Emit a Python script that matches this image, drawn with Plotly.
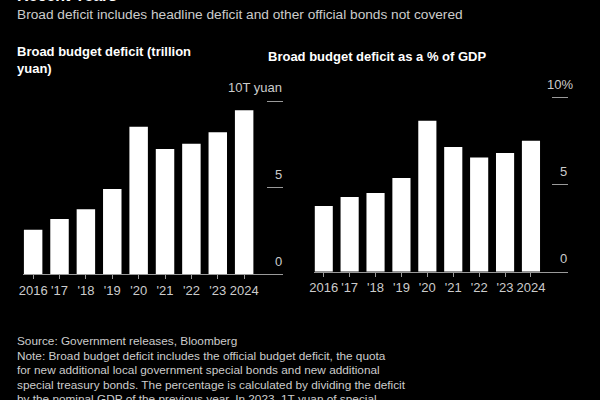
import plotly.graph_objects as go

years = ["2016", "'17", "'18", "'19", "'20", "'21", "'22", "'23", "2024"]
deficit_trn = [2.56, 3.18, 3.74, 4.91, 8.51, 7.23, 7.53, 8.19, 9.46]
deficit_pct = [3.77, 4.29, 4.52, 5.38, 8.67, 7.17, 6.57, 6.82, 7.53]
left_ticks = [0, 5, 10]
left_ticktext = ["0", "5", "10T yuan"]
right_ticks = [0, 5, 10]
right_ticktext = ["0", "5", "10%"]

title_top = "Recent Years"
subtitle = "Broad deficit includes headline deficit and other official bonds not covered"
left_title = "Broad budget deficit (trillion<br>yuan)"
right_title = "Broad budget deficit as a % of GDP"
footer_lines = [
    "Source: Government releases, Bloomberg",
    "Note: Broad budget deficit includes the official budget deficit, the quota",
    "for new additional local government special bonds and new additional",
    "special treasury bonds. The percentage is calculated by dividing the deficit",
    "by the nominal GDP of the previous year. In 2023, 1T yuan of special",
]

W, H = 600, 400
FONT = "Liberation Sans"
TXT = "#cccccc"
AX = "#9a9a9a"
YTOP = 11.8


def px(x):
    return x / W


def py(y):
    return 1 - y / H


fig = go.Figure()
fig.add_trace(go.Bar(x=years, y=deficit_trn, marker=dict(color="white", line=dict(width=0)),
                     width=0.7, xaxis="x", yaxis="y", hoverinfo="skip"))
fig.add_trace(go.Bar(x=years, y=deficit_pct, marker=dict(color="white", line=dict(width=0)),
                     width=0.7, xaxis="x2", yaxis="y2", hoverinfo="skip"))

xcommon = dict(type="category", showline=True, linecolor=AX, linewidth=1, ticks="outside",
               ticklen=4, tickcolor=AX, showgrid=False, zeroline=False,
               tickfont=dict(family=FONT, size=13, color=TXT), fixedrange=True)
ycommon = dict(side="right", showline=False, showgrid=False, zeroline=False, ticks="inside",
               ticklen=16, tickcolor=AX, tickwidth=1, showticklabels=False,
               range=[0, YTOP], fixedrange=True)

fig.update_layout(
    width=W, height=H, margin=dict(l=0, r=0, t=0, b=0),
    paper_bgcolor="black", plot_bgcolor="black", showlegend=False,
    xaxis=dict(xcommon, domain=[px(18), px(280)], range=[-0.39, 9.46], anchor="y"),
    yaxis=dict(ycommon, domain=[py(274), py(274 - YTOP * 17.3)], anchor="x",
               tickvals=left_ticks),
    xaxis2=dict(xcommon, domain=[px(312), px(568)], range=[-0.36, 9.44], anchor="y2"),
    yaxis2=dict(ycommon, domain=[py(271.7), py(271.7 - YTOP * 17.4)], anchor="x2",
                tickvals=right_ticks),
)

ann = []
# y tick labels (sit above the tick dashes, right-aligned)
for v, t in zip(left_ticks, left_ticktext):
    ann.append(dict(text=t, xref="x domain", yref="y", x=1, y=v, xanchor="right", yanchor="middle",
                    yshift=13, xshift=1, font=dict(family=FONT, size=13, color=TXT), showarrow=False))
for v, t in zip(right_ticks, right_ticktext):
    ann.append(dict(text=t, xref="x2 domain", yref="y2", x=1, y=v, xanchor="right", yanchor="middle",
                    yshift=13, xshift=1 + (6 if t.endswith("%") else 0),
                    font=dict(family=FONT, size=13, color=TXT), showarrow=False))

txt = []
txt.append(dict(text="<b>" + title_top + "</b>", x=px(10), y=py(6), xanchor="left", yanchor="bottom",
                font=dict(family=FONT, size=16, color="white")))
txt.append(dict(text=subtitle, x=px(10), y=py(15), xanchor="left", yanchor="middle",
                font=dict(family=FONT, size=13.7, color=TXT)))
txt.append(dict(text="<b>" + left_title + "</b>", x=px(10), y=py(60), xanchor="left", yanchor="middle",
                align="left", font=dict(family=FONT, size=13, color="white")))
txt.append(dict(text="<b>" + right_title + "</b>", x=px(263), y=py(57), xanchor="left", yanchor="middle",
                align="left", font=dict(family=FONT, size=13, color="white")))
ys = [341, 355.5, 370, 384.5, 399]
for t, yy in zip(footer_lines, ys):
    txt.append(dict(text=t, x=px(10), y=py(yy), xanchor="left", yanchor="middle",
                    font=dict(family=FONT, size=11.8, color=TXT)))
for a in txt:
    a.update(xref="paper", yref="paper", showarrow=False)
fig.update_layout(annotations=ann + txt)

fig.write_html("out.html")
